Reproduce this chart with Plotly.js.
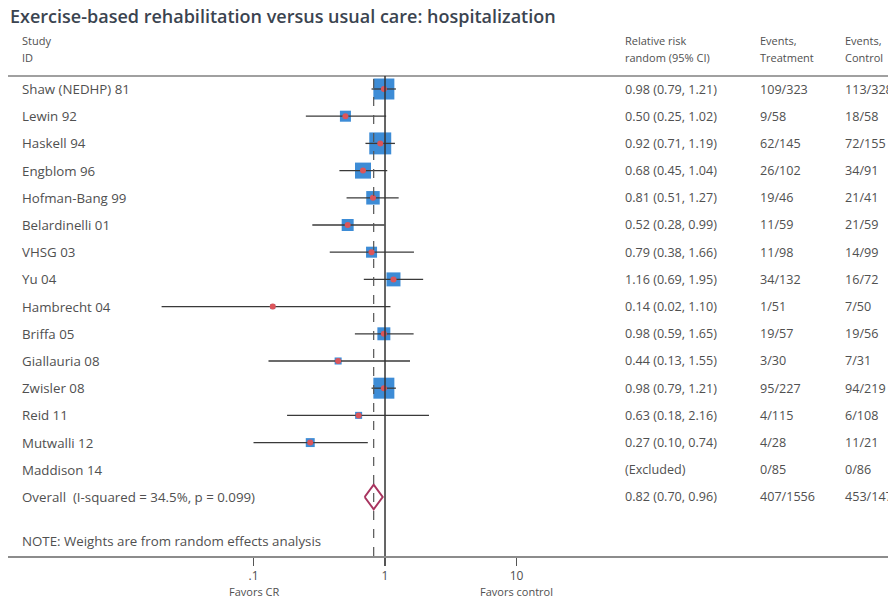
<!DOCTYPE html>
<html>
<head>
<meta charset="utf-8">
<script src="https://cdn.plot.ly/plotly-3.0.1.min.js"></script>
<style>html,body{margin:0;padding:0;background:#fff;}#chart{width:888px;height:599px;}</style>
</head>
<body>
<div id="chart"></div>
<script>
// ---- data ----
const studies = ["Shaw (NEDHP) 81","Lewin 92","Haskell 94","Engblom 96","Hofman-Bang 99","Belardinelli 01","VHSG 03","Yu 04","Hambrecht 04","Briffa 05","Giallauria 08","Zwisler 08","Reid 11","Mutwalli 12","Maddison 14"];
const rr = [0.98,0.50,0.92,0.68,0.81,0.52,0.79,1.16,0.14,0.98,0.44,0.98,0.63,0.27,null];
const ciLow = [0.79,0.25,0.71,0.45,0.51,0.28,0.38,0.69,0.02,0.59,0.13,0.79,0.18,0.10,null];
const ciHigh = [1.21,1.02,1.19,1.04,1.27,0.99,1.66,1.95,1.10,1.65,1.55,1.21,2.16,0.74,null];
const rrText = ["0.98 (0.79, 1.21)","0.50 (0.25, 1.02)","0.92 (0.71, 1.19)","0.68 (0.45, 1.04)","0.81 (0.51, 1.27)","0.52 (0.28, 0.99)","0.79 (0.38, 1.66)","1.16 (0.69, 1.95)","0.14 (0.02, 1.10)","0.98 (0.59, 1.65)","0.44 (0.13, 1.55)","0.98 (0.79, 1.21)","0.63 (0.18, 2.16)","0.27 (0.10, 0.74)","(Excluded)"];
const eventsTreatment = ["109/323","9/58","62/145","26/102","19/46","11/59","11/98","34/132","1/51","19/57","3/30","95/227","4/115","4/28","0/85"];
const eventsControl = ["113/328","18/58","72/155","34/91","21/41","21/59","14/99","16/72","7/50","19/56","7/31","94/219","6/108","11/21","0/86"];
const weights = [16.0,4.4,17.5,9.3,6.6,5.2,4.4,7.1,0.9,6.1,1.8,16.0,1.8,2.9,null];
const overallLabel = "Overall\u00a0 (I-squared = 34.5%, p = 0.099)";
const overallRR = 0.82, overallLow = 0.70, overallHigh = 0.96;
const overallText = "0.82 (0.70, 0.96)";
const overallEventsT = "407/1556";
const overallEventsC = "453/1474";
const noteText = "NOTE: Weights are from random effects analysis";
const tickVals = [0.1, 1, 10];
const tickText = [".1", "1", "10"];
const favorLabels = ["Favors CR", "Favors control"];

// ---- build ----
const rows = studies.map((_, i) => i);
const overallRow = studies.length;
const FONT = "Open Sans, Noto Sans, sans-serif";
const TXT = "#505050";

const ciX = [], ciY = [];
rr.forEach((v, i) => { if (v !== null) { ciX.push(ciLow[i], ciHigh[i], null); ciY.push(i, i, null); } });

const has = rr.map(v => v !== null);
const sqX = rr.filter((v) => v !== null);
const sqY = rows.filter(i => has[i]);
const sqS = weights.filter((w, i) => has[i]).map(w => 5.25 * Math.sqrt(w));

const traces = [
  { type: "scatter", mode: "markers", x: sqX, y: sqY, hoverinfo: "skip",
    marker: { symbol: "square", size: sqS, color: "#3d8cd6", opacity: 1, line: { width: 0 } } },
  { type: "scatter", mode: "lines", x: ciX, y: ciY, hoverinfo: "skip",
    line: { color: "#3a3a3a", width: 1.3 } },
  { type: "scatter", mode: "markers", x: sqX, y: sqY, hoverinfo: "skip",
    marker: { symbol: "circle", size: 6, color: "#dc555a", line: { width: 0 } } },
  { type: "scatter", mode: "lines", hoverinfo: "skip",
    x: [overallLow, overallRR, overallHigh, overallRR, overallLow],
    y: [overallRow, overallRow - 0.45, overallRow, overallRow + 0.45, overallRow],
    line: { color: "#a8345f", width: 2 } }
];

const px = p => (p - 8) / 880;      // page x -> paper
const py = p => (556 - p) / 480;    // page y -> paper

const ann = [];
const addText = (text, x, y, yref, size) => ann.push({
  text, x, y, xref: "paper", yref, xanchor: "left", yanchor: "middle", showarrow: false,
  borderpad: 0,
  font: { family: FONT, size: size, color: TXT }
});

const NAME = 13.3, NUM = 12.6, HDR = 11;
studies.forEach((s, i) => {
  addText(s, px(21), i, "y", NAME);
  addText(rrText[i], px(624), i, "y", NUM);
  addText(eventsTreatment[i], px(759), i, "y", NUM);
  addText(eventsControl[i], px(844), i, "y", NUM);
});
addText(overallLabel, px(21), overallRow, "y", NAME);
addText(overallText, px(624), overallRow, "y", NUM);
addText(overallEventsT, px(759), overallRow, "y", NUM);
addText(overallEventsC, px(844), overallRow, "y", NUM);
addText(noteText, px(21), py(541), "paper", NAME);

// headers
addText("Study", px(21), py(40), "paper", HDR);
addText("ID", px(21), py(57), "paper", HDR);
addText("Relative risk", px(624), py(40), "paper", HDR);
addText("random (95% CI)", px(624), py(57), "paper", HDR);
addText("Events,", px(759), py(40), "paper", HDR);
addText("Treatment", px(759), py(57), "paper", HDR);
addText("Events,", px(844), py(40), "paper", HDR);
addText("Control", px(844), py(57), "paper", HDR);

// favors labels under the axis
[tickVals[0], tickVals[2]].forEach((v, k) => ann.push({
  text: favorLabels[k], x: Math.log10(v), xref: "x", y: py(591), yref: "paper",
  xanchor: "center", yanchor: "middle", showarrow: false, borderpad: 0,
  font: { family: FONT, size: 11, color: TXT }
}));

const layout = {
  width: 888, height: 599,
  margin: { l: 8, r: 0, t: 76, b: 43, pad: 0 },
  paper_bgcolor: "#fff", plot_bgcolor: "#fff",
  showlegend: false,
  title: { text: "Exercise-based rehabilitation versus usual care: hospitalization",
    x: 10 / 888, xanchor: "left", xref: "container", y: 1 - 17 / 599, yanchor: "middle", yref: "container",
    font: { family: FONT, size: 18, color: "#3b4450", weight: 600 } },
  xaxis: { type: "log", range: [-2.867, 3.825], showgrid: false, zeroline: false,
    showline: true, linecolor: "#8c8c8c", linewidth: 2,
    ticks: "outside", ticklen: 8, tickwidth: 1.3, tickcolor: "#555",
    tickvals: tickVals, ticktext: tickText,
    tickfont: { family: FONT, size: 12, color: TXT }, fixedrange: true },
  yaxis: { range: [17.17, -0.478], visible: false, fixedrange: true },
  shapes: [
    { type: "line", xref: "paper", yref: "paper", x0: 0, x1: 1, y0: 1, y1: 1,
      line: { color: "#a0a0a0", width: 2 } },
    { type: "line", xref: "x", yref: "paper", x0: 1, x1: 1, y0: 0, y1: 1,
      line: { color: "#333", width: 1.5 } },
    { type: "line", xref: "x", yref: "paper", x0: overallRR, x1: overallRR, y0: 0, y1: 1,
      line: { color: "#555", width: 1.2, dash: "dash" } }
  ],
  annotations: ann
};

Plotly.newPlot("chart", traces, layout, { displayModeBar: false, staticPlot: true });
</script>
</body>
</html>
